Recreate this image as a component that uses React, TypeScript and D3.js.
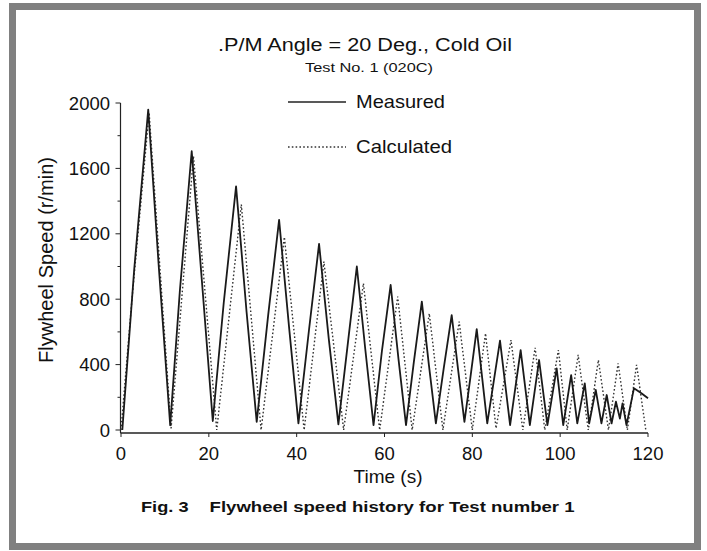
import React from "react";
import * as d3 from "d3";

const measuredTime = [0.3, 3.0, 6.2, 8.6, 11.2, 13.4, 16.1, 18.6, 20.9, 23.4, 26.2, 28.6, 30.9, 33.5, 36.0, 38.3, 40.4, 42.8, 45.1, 47.3, 49.5, 51.7, 53.7, 55.6, 57.5, 59.4, 61.4, 63.2, 64.9, 66.7, 68.5, 70.1, 71.7, 73.5, 75.3, 76.8, 78.2, 79.6, 81.0, 83.4, 86.3, 88.6, 91.0, 93.1, 95.2, 97.1, 99.2, 100.7, 102.5, 103.9, 105.6, 106.6, 108.1, 109.4, 110.6, 111.7, 112.7, 113.6, 114.2, 115.1, 116.8, 118.5, 120.0];
const measuredSpeed = [0, 980, 1960, 1000, 30, 850, 1705, 850, 55, 780, 1490, 720, 50, 700, 1285, 620, 40, 610, 1138, 560, 35, 540, 1000, 500, 30, 480, 887, 430, 30, 420, 785, 400, 40, 380, 703, 360, 50, 330, 617, 40, 546, 30, 489, 30, 428, 30, 377, 30, 336, 40, 285, 40, 245, 40, 214, 40, 173, 70, 163, 30, 255, 225, 194];

const calcTime = [0, 2.5, 6.4, 11.4, 16.5, 21.8, 27.4, 31.9, 37.2, 41.7, 46.2, 50.7, 55.2, 58.9, 63.0, 66.3, 70.2, 73.3, 77.0, 80.0, 83.0, 85.4, 88.8, 91.5, 94.3, 96.5, 99.6, 101.6, 104.1, 106.4, 108.7, 111.0, 113.2, 115.3, 117.4, 119.5];
const calcSpeed = [0, 800, 1940, 10, 1675, 0, 1380, 0, 1180, 0, 1030, 0, 897, 0, 816, 0, 713, 0, 663, 0, 591, 10, 550, 0, 503, 0, 489, 0, 459, 0, 428, 0, 408, 0, 398, 0];

const xTicks = [0, 20, 40, 60, 80, 100, 120];
const yTicks = [0, 400, 800, 1200, 1600, 2000];
const yMinorTicks = [200, 600, 1000, 1400, 1800];

const titleText = ".P/M Angle = 20 Deg., Cold Oil";
const subtitleText = "Test No. 1 (020C)";
const legendLabels = ["Measured", "Calculated"];
const xLabel = "Time (s)";
const yLabel = "Flywheel Speed (r/min)";
const captionFig = "Fig. 3";
const captionText = "Flywheel speed history for Test number 1";

const FONT = "'Liberation Sans', Arial, Helvetica, sans-serif";

export default function App() {
  const W = 707;
  const H = 551;
  const x = d3.scaleLinear().domain([0, 120]).range([121, 648]);
  const y = d3.scaleLinear().domain([0, 2000]).range([430, 103]);
  const axisY = 433;
  const axisX = 120.5;

  const measured = measuredTime.map((t, i) => [t, measuredSpeed[i]] as [number, number]);
  const calc = calcTime.map((t, i) => [t, calcSpeed[i]] as [number, number]);
  const line = d3
    .line<[number, number]>()
    .x((d) => x(d[0]))
    .y((d) => y(d[1]));

  return (
    <svg
      width={W}
      height={H}
      viewBox={`0 0 ${W} ${H}`}
      style={{ position: "absolute", left: 0, top: 0, background: "#fff" }}
      fontFamily={FONT}
    >
      <rect x={0} y={0} width={W} height={H} fill="#fff" />
      <rect x={12.5} y={6.5} width={685} height={540} fill="#fff" stroke="#808080" strokeWidth={7} />

      {/* titles */}
      <text x={218} y={51} fontSize={18} textLength={294} lengthAdjust="spacingAndGlyphs" fill="#111">
        {titleText}
      </text>
      <text x={305} y={72} fontSize={13} textLength={128} lengthAdjust="spacingAndGlyphs" fill="#111">
        {subtitleText}
      </text>

      {/* legend */}
      <line x1={288} x2={346} y1={102} y2={102} stroke="#222" strokeWidth={1.6} />
      <text x={356} y={108} fontSize={19} textLength={89} lengthAdjust="spacingAndGlyphs" fill="#111">
        {legendLabels[0]}
      </text>
      <line x1={288} x2={346} y1={147} y2={147} stroke="#333" strokeWidth={1.4} strokeDasharray="1.6,2.2" />
      <text x={356} y={153} fontSize={19} textLength={96} lengthAdjust="spacingAndGlyphs" fill="#111">
        {legendLabels[1]}
      </text>

      {/* axes */}
      <line x1={axisX} x2={axisX} y1={103} y2={axisY} stroke="#222" strokeWidth={1.2} />
      <line x1={axisX} x2={648} y1={axisY} y2={axisY} stroke="#222" strokeWidth={1.5} />
      {yTicks.map((v) => (
        <g key={"yt" + v}>
          <line x1={axisX - 5} x2={axisX} y1={y(v)} y2={y(v)} stroke="#222" strokeWidth={1} />
          <text x={110} y={y(v)} dy="0.36em" fontSize={18.5} textAnchor="end" fill="#111">
            {v}
          </text>
        </g>
      ))}
      {yMinorTicks.map((v) => (
        <line key={"ym" + v} x1={axisX - 3} x2={axisX} y1={y(v)} y2={y(v)} stroke="#222" strokeWidth={1} />
      ))}
      {xTicks.map((t) => (
        <g key={"xt" + t}>
          <line x1={x(t)} x2={x(t)} y1={axisY} y2={axisY + 4} stroke="#222" strokeWidth={1} />
          <text x={x(t)} y={460} fontSize={18.5} textAnchor="middle" fill="#111">
            {t}
          </text>
        </g>
      ))}

      <text x={388} y={483} fontSize={19} textAnchor="middle" fill="#111">
        {xLabel}
      </text>
      <text
        transform="translate(53,260) rotate(-90)"
        fontSize={19.5}
        textAnchor="middle"
        textLength={206}
        lengthAdjust="spacingAndGlyphs"
        fill="#111"
      >
        {yLabel}
      </text>

      {/* series */}
      <path d={line(calc) || ""} fill="none" stroke="#333" strokeWidth={1.4} strokeDasharray="1.6,2.2" />
      <path d={line(measured) || ""} fill="none" stroke="#1a1a1a" strokeWidth={1.8} strokeLinejoin="round" />

      {/* caption */}
      <text x={141} y={512} fontSize={15} fontWeight="bold" textLength={47.5} lengthAdjust="spacingAndGlyphs" fill="#111">
        {captionFig}
      </text>
      <text x={209.6} y={512} fontSize={15} fontWeight="bold" textLength={365} lengthAdjust="spacingAndGlyphs" fill="#111">
        {captionText}
      </text>
    </svg>
  );
}
